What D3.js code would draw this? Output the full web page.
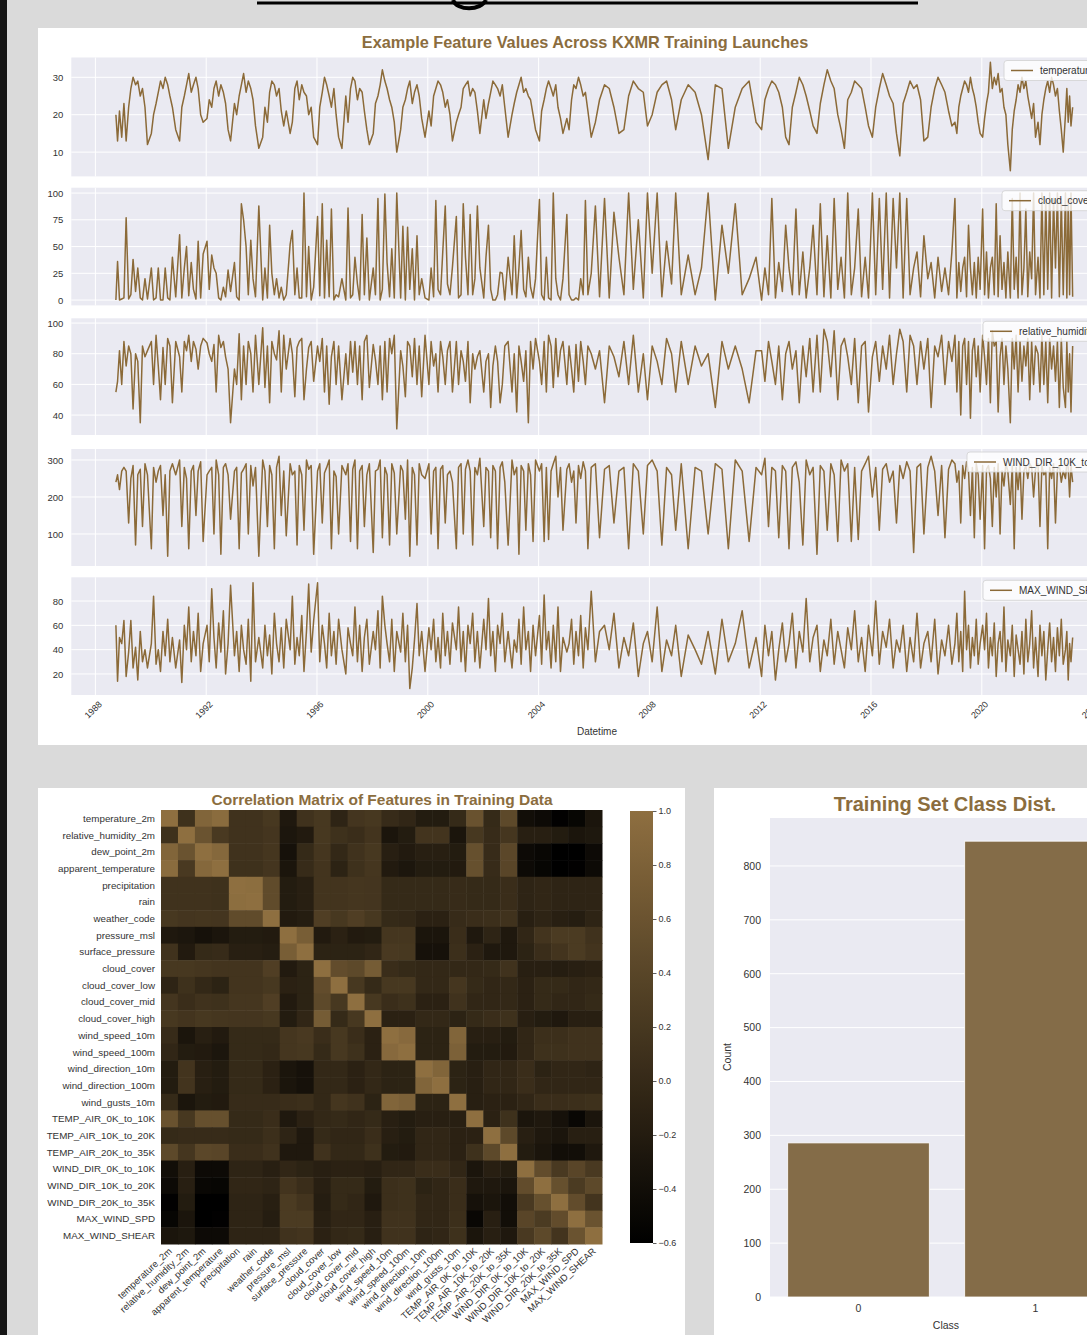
<!DOCTYPE html>
<html>
<head>
<meta charset="utf-8">
<script src="https://cdn.jsdelivr.net/npm/d3@7"></script>
<style>
html,body{margin:0;padding:0;background:#dadada;overflow:hidden;}
text{font-family:"Liberation Sans",Arial,"DejaVu Sans",sans-serif;}
</style>
</head>
<body>
<script>
// ---------------- DATA ----------------
const launchYears = [
1988.74,1988.8,1988.87,1988.95,
1989.03,1989.11,1989.2,1989.28,1989.36,1989.45,1989.53,1989.62,1989.7,1989.79,1989.88,
1990.02,1990.1,1990.19,1990.27,1990.35,1990.44,1990.52,1990.61,1990.69,1990.78,1990.9,
1991.04,1991.12,1991.21,1991.29,1991.37,1991.46,1991.54,1991.63,1991.71,1991.8,1991.89,
1992.03,1992.11,1992.2,1992.28,1992.36,1992.45,1992.53,1992.62,1992.7,1992.79,1992.88,
1993.02,1993.1,1993.19,1993.27,1993.35,1993.44,1993.52,1993.61,1993.69,1993.78,1993.9,
1994.04,1994.12,1994.21,1994.29,1994.37,1994.46,1994.54,1994.63,1994.71,1994.8,1994.89,
1995.03,1995.11,1995.2,1995.28,1995.36,1995.45,1995.53,1995.62,1995.7,1995.79,1995.88,
1996.02,1996.1,1996.19,1996.27,1996.35,1996.44,1996.52,1996.61,1996.69,1996.78,1996.9,
1997.04,1997.12,1997.21,1997.29,1997.37,1997.46,1997.54,1997.63,1997.71,1997.8,1997.89,
1998.03,1998.11,1998.2,1998.28,1998.36,1998.45,1998.53,1998.62,1998.7,1998.79,1998.88,
1999.02,1999.1,1999.19,1999.27,1999.35,1999.44,1999.52,1999.61,1999.69,1999.78,1999.9,
2000.04,2000.12,2000.21,2000.29,2000.37,2000.46,2000.54,2000.63,2000.71,2000.8,2000.89,
2001.03,2001.11,2001.2,2001.28,2001.36,2001.45,2001.53,2001.62,2001.7,2001.79,2001.88,
2002.02,2002.1,2002.19,2002.27,2002.35,2002.44,2002.52,2002.61,2002.69,2002.78,2002.9,
2003.04,2003.12,2003.21,2003.29,2003.37,2003.46,2003.54,2003.63,2003.71,2003.8,2003.89,
2004.03,2004.11,2004.2,2004.28,2004.36,2004.45,2004.53,2004.62,2004.7,2004.79,2004.88,
2005.02,2005.1,2005.19,2005.27,2005.35,2005.44,2005.52,2005.61,2005.69,2005.78,2005.9,
2006.05,2006.2,2006.38,2006.55,2006.72,2006.9,
2007.08,2007.25,2007.42,2007.6,2007.78,2007.93,
2008.1,2008.28,2008.45,2008.62,2008.8,2008.95,
2009.15,2009.4,2009.65,2009.88,
2010.12,2010.38,2010.62,2010.85,
2011.1,2011.35,2011.6,2011.85,
2012.05,2012.17,2012.3,2012.42,2012.55,2012.67,2012.8,2012.92,
2013.04,2013.16,2013.29,2013.41,2013.54,2013.66,2013.79,2013.91,
2014.05,2014.17,2014.3,2014.42,2014.55,2014.67,2014.8,2014.92,
2015.04,2015.16,2015.29,2015.41,2015.54,2015.66,2015.79,2015.91,
2016.05,2016.17,2016.3,2016.42,2016.55,2016.67,2016.8,2016.92,
2017.04,2017.16,2017.29,2017.41,2017.54,2017.66,2017.79,2017.91,
2018.05,2018.17,2018.3,2018.42,2018.55,2018.67,2018.8,2018.92,
2019.03,2019.1,2019.17,2019.24,2019.31,2019.38,2019.45,2019.52,2019.59,2019.66,2019.73,2019.8,2019.87,2019.94,
2020.03,2020.1,2020.17,2020.24,2020.31,2020.38,2020.45,2020.52,2020.59,2020.66,2020.73,2020.8,2020.87,2020.94,
2021.03,2021.1,2021.17,2021.24,2021.31,2021.38,2021.45,2021.52,2021.59,2021.66,2021.73,2021.8,2021.87,2021.94,
2022.03,2022.1,2022.17,2022.24,2022.31,2022.38,2022.45,2022.52,2022.59,2022.66,2022.73,2022.8,2022.87,2022.94,
2023.02,2023.07,2023.12,2023.17,2023.22,2023.28
];

const temperature2m = [
20,13,21,14,
23,13,22,27,30,28,29,25,27,22,12,
15,20,23,26,29,27,30,28,25,22,16,
13,22,25,28,31,26,28,30,27,20,18,
19,24,22,27,29,25,28,26,23,16,13,
23,20,25,28,31,26,29,27,24,17,11,
14,22,18,26,29,28,25,27,21,17,21,
15,18,27,29,24,28,26,25,20,22,14,
12,22,26,30,28,25,22,27,20,14,11,
25,18,27,30,29,24,27,26,21,16,12,
15,23,25,28,32,29,27,24,22,18,10,
16,22,24,27,29,23,26,28,25,19,14,
21,17,25,27,29,28,26,22,24,20,13,
18,20,22,27,28,29,25,27,26,21,15,
24,19,23,26,29,28,27,25,28,22,14,
20,23,26,28,30,26,27,25,24,20,16,
13,21,24,27,29,27,25,28,22,19,15,
19,16,24,28,27,30,28,25,26,21,14,
18,24,28,27,22,15,
16,25,29,27,26,17,
20,26,28,29,24,16,
24,28,26,20,
8,28,27,11,
22,27,29,18,
16,24,27,29,28,26,22,14,
12,22,26,30,28,25,21,17,
15,23,28,32,29,27,20,16,
11,24,26,29,28,27,22,17,
14,22,27,31,28,25,23,15,
9,23,26,29,27,28,24,13,
14,22,27,30,28,26,21,17,
18,15,22,25,27,29,28,26,30,27,25,22,18,15,
14,19,23,26,34,27,30,28,31,26,27,22,20,12,
5,16,21,24,28,26,30,27,29,25,22,19,23,14,
18,12,20,24,27,29,26,30,28,25,27,21,16,10,
20,27,18,25,17,22
];

const cloudCover = [
0,36,0,1,
2,77,1,5,38,8,30,2,0,20,1,
30,0,2,30,0,0,30,2,0,40,3,
61,2,30,50,4,35,10,1,55,2,43,
55,10,42,30,25,2,0,12,3,28,8,
35,3,0,90,75,50,5,56,20,3,88,
0,30,2,70,25,5,20,2,12,0,5,
52,65,5,30,2,2,100,3,50,0,12,
78,4,90,2,56,3,85,0,5,3,20,
0,86,2,5,40,15,0,80,5,58,0,
30,5,95,0,10,99,35,3,48,2,100,
2,69,0,68,10,48,0,60,5,20,2,
0,30,3,93,10,5,45,88,15,5,31,
78,2,5,90,40,5,80,5,20,88,30,
2,40,70,10,0,0,5,26,25,0,40,
5,60,2,30,65,10,3,40,12,2,20,
94,5,0,40,2,0,100,20,5,0,20,
80,5,0,0,2,0,20,5,93,5,25,
88,3,95,2,82,40,
5,100,10,75,2,100,
25,100,3,55,15,100,
5,42,5,30,
100,0,70,25,
90,5,20,40,
0,30,5,95,2,35,8,70,
30,5,85,5,45,2,30,70,
5,90,3,60,2,95,10,40,
2,100,5,30,85,3,40,2,
100,5,95,10,100,2,95,30,
100,2,95,5,30,45,3,60,
20,35,2,40,8,30,5,45,
95,2,35,8,30,40,3,70,30,5,35,2,40,10,
85,5,45,2,30,40,5,90,3,60,10,35,2,45,
2,95,10,40,2,100,5,30,85,3,45,20,100,5,
40,2,100,5,95,10,100,2,95,30,100,3,95,5,
100,2,95,5,100,3
];

const relativeHumidity2m = [
55,62,82,60,
88,72,85,80,44,80,75,35,85,78,82,
88,60,92,72,50,84,60,90,85,48,88,
78,55,88,82,92,75,88,83,70,85,90,
87,80,75,86,55,92,84,88,78,70,35,
70,60,93,50,85,60,88,80,55,92,60,
97,58,85,48,88,80,76,95,55,92,70,
90,80,52,84,88,90,50,70,84,88,62,
85,75,90,55,85,47,78,88,60,85,50,
80,60,88,68,88,60,85,50,88,92,58,
86,76,60,85,50,88,55,90,80,92,31,
82,72,52,88,85,65,90,60,85,52,92,
60,88,72,80,55,88,78,60,82,88,55,
88,60,82,75,62,88,48,80,70,78,82,
55,75,80,45,72,85,75,48,60,85,88,
55,80,42,85,75,62,82,35,88,70,90,
75,60,88,55,92,85,58,90,65,82,88,
60,85,70,55,86,62,88,75,60,85,80,
70,82,48,85,78,65,
88,60,92,55,80,50,
85,75,60,90,80,55,
88,60,85,72,
80,45,88,70,
85,70,48,82,
82,62,88,75,60,85,50,80,
88,70,82,48,85,65,90,55,
92,55,96,88,65,95,50,85,
90,78,60,90,48,85,88,42,
78,88,62,85,70,92,60,80,
96,88,55,92,85,60,88,70,
90,45,85,78,92,60,88,75,
92,55,88,40,85,90,60,88,38,82,90,65,85,55,
92,78,60,90,48,95,85,88,42,78,90,60,85,70,
35,90,70,92,55,88,62,85,72,90,50,88,60,85,
80,55,92,60,88,48,90,70,85,62,88,45,90,58,
45,88,55,80,42,85
];

const windDir10kTo20k = [
240,260,220,270,
280,270,130,250,285,70,260,275,120,290,260,
60,280,240,270,285,150,260,40,270,290,260,
300,120,280,250,60,270,285,150,270,295,80,
260,270,280,100,300,260,45,280,290,260,140,
270,280,60,265,275,290,100,285,230,280,40,
300,270,120,285,260,60,280,310,150,270,95,
290,260,270,70,285,260,110,300,275,285,45,
270,290,130,265,280,300,60,270,255,100,285,
260,290,80,275,300,60,270,285,120,260,290,
50,270,275,300,90,280,260,70,290,265,100,
285,270,140,300,40,280,260,70,290,260,250,
290,100,270,280,60,275,285,130,260,270,240,
60,280,290,100,275,300,270,70,280,260,305,
120,280,270,90,285,270,60,280,295,240,70,
300,260,280,45,285,270,110,290,260,80,300,
270,290,80,280,85,270,290,310,200,280,110,
275,290,240,270,130,285,250,295,270,60,280,
290,90,275,285,130,270,
280,60,290,270,100,285,
300,270,70,280,260,110,
290,60,280,270,
100,290,275,60,
300,270,80,280,
260,305,120,280,270,90,285,270,
60,280,295,240,70,300,260,280,
45,285,270,110,290,260,80,300,
270,290,80,280,85,270,290,310,
200,280,110,275,290,240,270,130,
285,250,295,270,50,280,290,100,
280,310,270,150,285,90,275,300,
290,240,270,130,285,250,295,270,150,280,90,290,260,140,
285,60,275,285,250,120,280,200,290,100,270,230,290,270,
180,285,60,280,220,290,140,270,285,250,290,280,200,275,
290,120,285,260,270,60,280,250,290,130,275,285,240,270,
250,290,280,200,285,240
];

const maxWindSpd = [
60,14,50,45,
64,18,38,64,25,42,15,55,30,40,25,
45,84,28,40,22,55,35,65,30,50,25,
48,13,60,40,75,30,55,35,70,22,45,
60,30,90,50,25,62,38,72,20,45,93,
35,55,22,60,40,28,65,14,95,30,50,
25,60,35,52,20,70,45,30,58,25,65,
40,84,28,50,35,68,22,55,94,38,64,
95,30,60,45,25,70,35,55,28,65,40,
20,58,45,35,75,30,60,22,50,65,28,
55,40,72,25,84,60,45,30,65,22,55,
38,70,30,60,8,25,48,78,35,55,22,
58,40,65,30,50,25,70,35,55,28,62,
40,75,30,55,22,60,45,70,30,55,25,
65,40,82,35,55,22,60,45,70,30,55,
25,48,38,65,28,75,40,55,22,60,35,
68,28,85,40,55,25,60,30,75,22,50,
38,45,65,28,55,35,68,25,58,40,88,
30,55,60,40,70,25,
50,35,62,18,45,55,
30,75,22,48,35,60,
18,52,40,28,
55,20,65,30,
45,72,25,50,
18,60,35,55,15,40,62,30,
45,70,25,55,38,82,30,50,
60,22,48,35,65,28,55,40,
25,58,40,72,30,50,22,60,
35,80,28,55,42,65,25,48,
38,60,22,50,30,70,25,45,
55,30,65,20,48,35,60,28,
45,70,30,55,22,88,40,60,25,50,35,65,28,45,
60,40,70,25,50,35,62,18,45,55,30,75,22,48,
35,60,18,52,40,28,55,20,65,30,45,72,25,50,
18,60,35,55,15,40,62,30,50,22,58,35,65,28,
40,55,15,45,30,50
];

const seriesNames = ["temperature_2m","cloud_cover","relative_humidity_2m","WIND_DIR_10K_to_20K","MAX_WIND_SPD"];
const yearTicks = [1988,1992,1996,2000,2004,2008,2012,2016,2020,2024];
const tempTicks = [10,20,30];
const cloudTicks = [0,25,50,75,100];
const humidityTicks = [40,60,80,100];
const windDirTicks = [100,200,300];
const maxWindTicks = [20,40,60,80];

const featureNames = ["temperature_2m","relative_humidity_2m","dew_point_2m","apparent_temperature","precipitation","rain","weather_code","pressure_msl","surface_pressure","cloud_cover","cloud_cover_low","cloud_cover_mid","cloud_cover_high","wind_speed_10m","wind_speed_100m","wind_direction_10m","wind_direction_100m","wind_gusts_10m","TEMP_AIR_0K_to_10K","TEMP_AIR_10K_to_20K","TEMP_AIR_20K_to_35K","WIND_DIR_0K_to_10K","WIND_DIR_10K_to_20K","WIND_DIR_20K_to_35K","MAX_WIND_SPD","MAX_WIND_SHEAR"];

// upper triangle of the correlation matrix: row i lists corr(i, j) for j = i+1 .. 25
const corrUpper = [
[0.10,0.85,0.95,0.12,0.12,0.20,-0.25,0.12,0.20,-0.08,0.17,0.20,0.02,-0.05,-0.20,-0.20,0.00,0.58,0.00,0.45,-0.40,-0.45,-0.58,-0.52,-0.30],
[0.60,0.22,0.12,0.12,0.17,-0.28,-0.22,0.20,0.10,0.05,0.15,-0.30,-0.20,0.15,0.15,-0.30,0.20,0.02,0.18,-0.15,-0.15,-0.20,-0.30,-0.26],
[0.90,0.12,0.12,0.18,-0.35,0.00,0.18,-0.02,0.12,0.20,-0.15,-0.22,-0.15,-0.15,-0.20,0.55,0.02,0.42,-0.45,-0.50,-0.60,-0.60,-0.45],
[0.10,0.10,0.17,-0.30,0.02,0.15,-0.10,0.10,0.18,-0.22,-0.28,-0.20,-0.20,-0.22,0.55,0.02,0.40,-0.45,-0.52,-0.60,-0.58,-0.45],
[0.98,0.48,-0.20,-0.15,0.15,0.15,0.18,0.17,0.00,0.00,0.00,0.00,0.02,0.00,0.00,0.05,-0.08,-0.05,-0.08,-0.08,-0.08],
[0.48,-0.20,-0.15,0.15,0.15,0.18,0.17,0.00,0.00,0.00,0.00,0.02,0.00,0.00,0.05,-0.08,-0.05,-0.08,-0.08,-0.08],
[-0.22,-0.18,0.30,0.20,0.30,0.20,0.00,-0.02,-0.12,-0.12,0.02,0.05,0.08,0.12,-0.15,-0.08,-0.15,-0.18,-0.08],
[0.75,-0.22,-0.12,-0.22,-0.20,0.18,0.18,-0.30,-0.30,0.05,-0.25,-0.08,-0.25,-0.05,0.15,0.25,0.25,0.12],
[-0.10,-0.10,-0.10,-0.05,0.22,0.20,-0.35,-0.35,0.08,-0.12,-0.25,-0.25,-0.10,0.05,0.15,0.25,0.15],
[0.50,0.45,0.72,0.05,0.00,-0.02,-0.02,-0.02,-0.02,0.00,0.12,-0.15,-0.15,-0.18,-0.15,-0.12],
[0.20,0.00,0.20,0.20,-0.02,-0.02,0.18,0.00,-0.05,-0.02,-0.12,0.00,0.00,-0.05,-0.02],
[0.20,0.05,0.10,-0.12,-0.12,0.12,-0.05,-0.05,-0.02,-0.12,0.00,-0.05,-0.05,0.00],
[-0.12,-0.12,-0.02,-0.02,-0.10,0.00,0.05,0.10,-0.15,-0.20,-0.25,-0.15,-0.15],
[0.92,-0.10,-0.10,0.85,-0.15,-0.15,-0.20,-0.05,0.08,0.08,0.12,0.12],
[-0.10,-0.10,0.80,-0.20,-0.20,-0.22,-0.05,0.10,0.10,0.12,0.12],
[0.85,-0.10,-0.15,-0.05,-0.05,0.05,-0.10,-0.05,-0.05,-0.08],
[-0.10,-0.15,-0.05,-0.05,0.05,-0.05,-0.05,-0.05,-0.05],
[-0.15,-0.12,-0.12,-0.05,0.05,0.05,0.08,0.10],
[-0.12,0.10,-0.30,-0.25,-0.35,-0.50,-0.30],
[0.45,-0.15,-0.25,-0.30,-0.15,-0.15],
[-0.20,-0.30,-0.40,-0.40,-0.25],
[0.50,0.22,0.40,0.22],
[0.55,0.25,0.45],
[0.50,0.15],
[0.60],
[]
];
const colorbarTicks = [1.0,0.8,0.6,0.4,0.2,0.0,-0.2,-0.4,-0.6];

const classLabels = ["0","1"];
const classCounts = [286,846];
const countTicks = [0,100,200,300,400,500,600,700,800];

// ---------------- LAYOUT / STYLE ----------------
const W = 1087, H = 1335;
const brown = "#8b6a38";
const titleColor = "#8b6d3e";
const barColor = "#846c48";
const panelBg = "#eaeaf2";
const tickColor = "#333";

const svg = d3.select("body").append("svg").attr("width", W).attr("height", H);
const defs = svg.append("defs");

// page decorations
svg.append("rect").attr("x",0).attr("y",0).attr("width",W).attr("height",H).attr("fill","#dadada");
svg.append("rect").attr("x",0).attr("y",0).attr("width",7).attr("height",H).attr("fill","#151515");
svg.append("rect").attr("x",257).attr("y",1.5).attr("width",661).attr("height",3).attr("fill","#000");
svg.append("path").attr("d","M453,0 C457,11 481,11 486,0").attr("fill","none").attr("stroke","#000").attr("stroke-width",4);

// cards
svg.append("rect").attr("x",38).attr("y",28).attr("width",1100).attr("height",717).attr("fill","#fff");
svg.append("rect").attr("x",38).attr("y",788).attr("width",647).attr("height",560).attr("fill","#fff");
svg.append("rect").attr("x",714).attr("y",788).attr("width",400).attr("height",560).attr("fill","#fff");

// ---------------- TIME SERIES ----------------
svg.append("text").attr("x",585).attr("y",48).attr("text-anchor","middle")
  .attr("font-size",16.3).attr("font-weight","bold").attr("fill",titleColor)
  .text("Example Feature Values Across KXMR Training Launches");

const x = d3.scaleLinear().domain([1987.13, 2025.2]).range([71.3, 71.3 + 38.07*27.7]);
const xLeft = x.range()[0], xRight = x.range()[1];

const seriesValues = [temperature2m, cloudCover, relativeHumidity2m, windDir10kTo20k, maxWindSpd];
const seriesTicks = [tempTicks, cloudTicks, humidityTicks, windDirTicks, maxWindTicks];
const panelBoxes = [
  {top:57.5, bottom:176.4, domain:[3.5,35.3], legendX:1040},
  {top:187.7, bottom:305.4, domain:[-5,105], legendX:1038},
  {top:318.3, bottom:435, domain:[27,103.1], legendX:1019},
  {top:449, bottom:566, domain:[13.5,329.7], legendX:1003},
  {top:577.3, bottom:695, domain:[2.7,99.5], legendX:1019}
];

defs.append("clipPath").attr("id","tsclip")
  .append("rect").attr("x",xLeft).attr("y",0).attr("width",xRight-xLeft).attr("height",H);

seriesValues.forEach((vals, k) => {
  const b = panelBoxes[k];
  const y = d3.scaleLinear().domain(b.domain).range([b.bottom, b.top]);
  const g = svg.append("g");
  g.append("rect").attr("x",xLeft).attr("y",b.top).attr("width",xRight-xLeft).attr("height",b.bottom-b.top).attr("fill",panelBg);
  g.selectAll(".vg").data(yearTicks).enter().append("line")
    .attr("x1",d=>x(d)).attr("x2",d=>x(d)).attr("y1",b.top).attr("y2",b.bottom)
    .attr("stroke","#fff").attr("stroke-width",1);
  g.selectAll(".hg").data(seriesTicks[k]).enter().append("line")
    .attr("x1",xLeft).attr("x2",xRight).attr("y1",d=>y(d)).attr("y2",d=>y(d))
    .attr("stroke","#fff").attr("stroke-width",1);
  const ax = g.append("g").attr("transform",`translate(${xLeft},0)`)
    .call(d3.axisLeft(y).tickValues(seriesTicks[k]).tickSize(0).tickPadding(8).tickFormat(d3.format("d")));
  ax.select(".domain").remove();
  ax.selectAll("text").attr("font-size",9.5).attr("fill",tickColor).attr("font-family","Liberation Sans, Arial, sans-serif");
  const n = Math.min(launchYears.length, vals.length);
  const pts = d3.range(n).map(i => [launchYears[i], vals[i]]);
  g.append("path").datum(pts)
    .attr("clip-path","url(#tsclip)")
    .attr("d", d3.line().x(d=>x(d[0])).y(d=>y(d[1])))
    .attr("fill","none").attr("stroke",brown).attr("stroke-width",1.5).attr("stroke-linejoin","round");
  // legend (right part falls outside the visible page, as in the reference)
  const bx0 = b.legendX - 36, by0 = b.top + 3, bh = 20;
  g.append("rect").attr("x",bx0).attr("y",by0).attr("width",xRight-7-bx0).attr("height",bh)
    .attr("rx",3).attr("ry",3).attr("fill","#fff").attr("fill-opacity",0.8)
    .attr("stroke","#d0d0d0").attr("stroke-width",0.8);
  g.append("line").attr("x1",bx0+7).attr("x2",bx0+29).attr("y1",by0+bh/2).attr("y2",by0+bh/2)
    .attr("stroke",brown).attr("stroke-width",1.5);
  g.append("text").attr("x",b.legendX).attr("y",by0+bh/2+3.5)
    .attr("font-size",10).attr("fill",tickColor).text(seriesNames[k]);
});

const lastBottom = panelBoxes[4].bottom;
svg.selectAll(".yl").data(yearTicks).enter().append("text")
  .attr("transform",d=>`translate(${x(d)},${lastBottom+17}) rotate(-45)`)
  .attr("text-anchor","middle").attr("font-size",9).attr("fill",tickColor)
  .text(d=>d);
svg.append("text").attr("x",597).attr("y",735).attr("text-anchor","middle")
  .attr("font-size",10).attr("fill",tickColor).text("Datetime");

// ---------------- HEATMAP ----------------
const corr = featureNames.map((_, i) => featureNames.map((_, j) => {
  if (i === j) return 1.0;
  if (j > i) return corrUpper[i][j - i - 1];
  return corrUpper[j][i - j - 1];
}));

svg.append("text").attr("x",382).attr("y",805).attr("text-anchor","middle")
  .attr("font-size",15.5).attr("font-weight","bold").attr("fill",titleColor)
  .text("Correlation Matrix of Features in Training Data");

const hx = d3.scaleBand().domain(featureNames).range([161, 602]);
const hy = d3.scaleBand().domain(featureNames).range([810, 1244]);
const color = d3.scaleLinear().domain([-0.6, 1.0]).range(["#000000", "#8e6f40"]).interpolate(d3.interpolateRgb).clamp(true);

const cells = [];
featureNames.forEach((r, i) => featureNames.forEach((c, j) => cells.push({r, c, v: corr[i][j]})));
svg.append("g").selectAll("rect").data(cells).enter().append("rect")
  .attr("x", d=>hx(d.c)).attr("y", d=>hy(d.r))
  .attr("width", hx.bandwidth()+0.5).attr("height", hy.bandwidth()+0.5)
  .attr("fill", d=>color(d.v));

svg.append("g").selectAll("text").data(featureNames).enter().append("text")
  .attr("x",155).attr("y",d=>hy(d)+hy.bandwidth()/2+3.5)
  .attr("text-anchor","end").attr("font-size",9.8).attr("fill",tickColor).text(d=>d);
svg.append("g").selectAll("text").data(featureNames).enter().append("text")
  .attr("transform",d=>`translate(${hx(d)+hx.bandwidth()/2+3},${1252}) rotate(-43)`)
  .attr("text-anchor","end").attr("font-size",9.5).attr("fill",tickColor).text(d=>d);

// colorbar
const cbY = d3.scaleLinear().domain([-0.6, 1.0]).range([1243, 811]);
const grad = defs.append("linearGradient").attr("id","cbgrad")
  .attr("x1",0).attr("y1",1).attr("x2",0).attr("y2",0);
d3.range(0, 1.0001, 0.05).forEach(t => {
  grad.append("stop").attr("offset", t).attr("stop-color", color(-0.6 + 1.6*t));
});
svg.append("rect").attr("x",630).attr("y",cbY(1.0)).attr("width",23).attr("height",cbY(-0.6)-cbY(1.0))
  .attr("fill","url(#cbgrad)");
const cbAx = svg.append("g").attr("transform","translate(653,0)")
  .call(d3.axisRight(cbY).tickValues(colorbarTicks).tickSize(3.5).tickPadding(2).tickFormat(d=>d3.format(".1f")(d).replace("-","\u2212")));
cbAx.select(".domain").remove();
cbAx.selectAll("line").attr("stroke",tickColor).attr("stroke-width",0.8);
cbAx.selectAll("text").attr("font-size",9).attr("fill",tickColor).attr("font-family","Liberation Sans, Arial, sans-serif");

// ---------------- BAR CHART ----------------
svg.append("text").attr("x",945).attr("y",811).attr("text-anchor","middle")
  .attr("font-size",20).attr("font-weight","bold").attr("fill",titleColor)
  .text("Training Set Class Dist.");

const bx = d3.scaleBand().domain(classLabels).range([770, 1124]).paddingInner(0.2).paddingOuter(0.1);
const by = d3.scaleLinear().domain([0, 889]).range([1297, 818]);
svg.append("rect").attr("x",770).attr("y",818).attr("width",354).attr("height",1297-818).attr("fill",panelBg);
svg.append("g").selectAll("line").data(countTicks).enter().append("line")
  .attr("x1",770).attr("x2",1124).attr("y1",d=>by(d)).attr("y2",d=>by(d))
  .attr("stroke","#fff").attr("stroke-width",1);
svg.append("g").selectAll("rect").data(classLabels).enter().append("rect")
  .attr("x",d=>bx(d)).attr("width",bx.bandwidth())
  .attr("y",(d,i)=>by(classCounts[i])).attr("height",(d,i)=>by(0)-by(classCounts[i]))
  .attr("fill",barColor).attr("stroke","#fff").attr("stroke-width",0.8);
const byAx = svg.append("g").attr("transform","translate(770,0)")
  .call(d3.axisLeft(by).tickValues(countTicks).tickSize(0).tickPadding(9));
byAx.select(".domain").remove();
byAx.selectAll("text").attr("font-size",10.5).attr("fill",tickColor).attr("font-family","Liberation Sans, Arial, sans-serif");
const bxAx = svg.append("g").attr("transform","translate(0,1297)")
  .call(d3.axisBottom(bx).tickSize(0).tickPadding(8));
bxAx.select(".domain").remove();
bxAx.selectAll("text").attr("font-size",10.5).attr("fill",tickColor).attr("font-family","Liberation Sans, Arial, sans-serif");
svg.append("text").attr("x",946).attr("y",1329).attr("text-anchor","middle")
  .attr("font-size",10.5).attr("fill",tickColor).text("Class");
svg.append("text").attr("transform","translate(731,1057) rotate(-90)").attr("text-anchor","middle")
  .attr("font-size",10.5).attr("fill",tickColor).text("Count");
</script>
</body>
</html>
